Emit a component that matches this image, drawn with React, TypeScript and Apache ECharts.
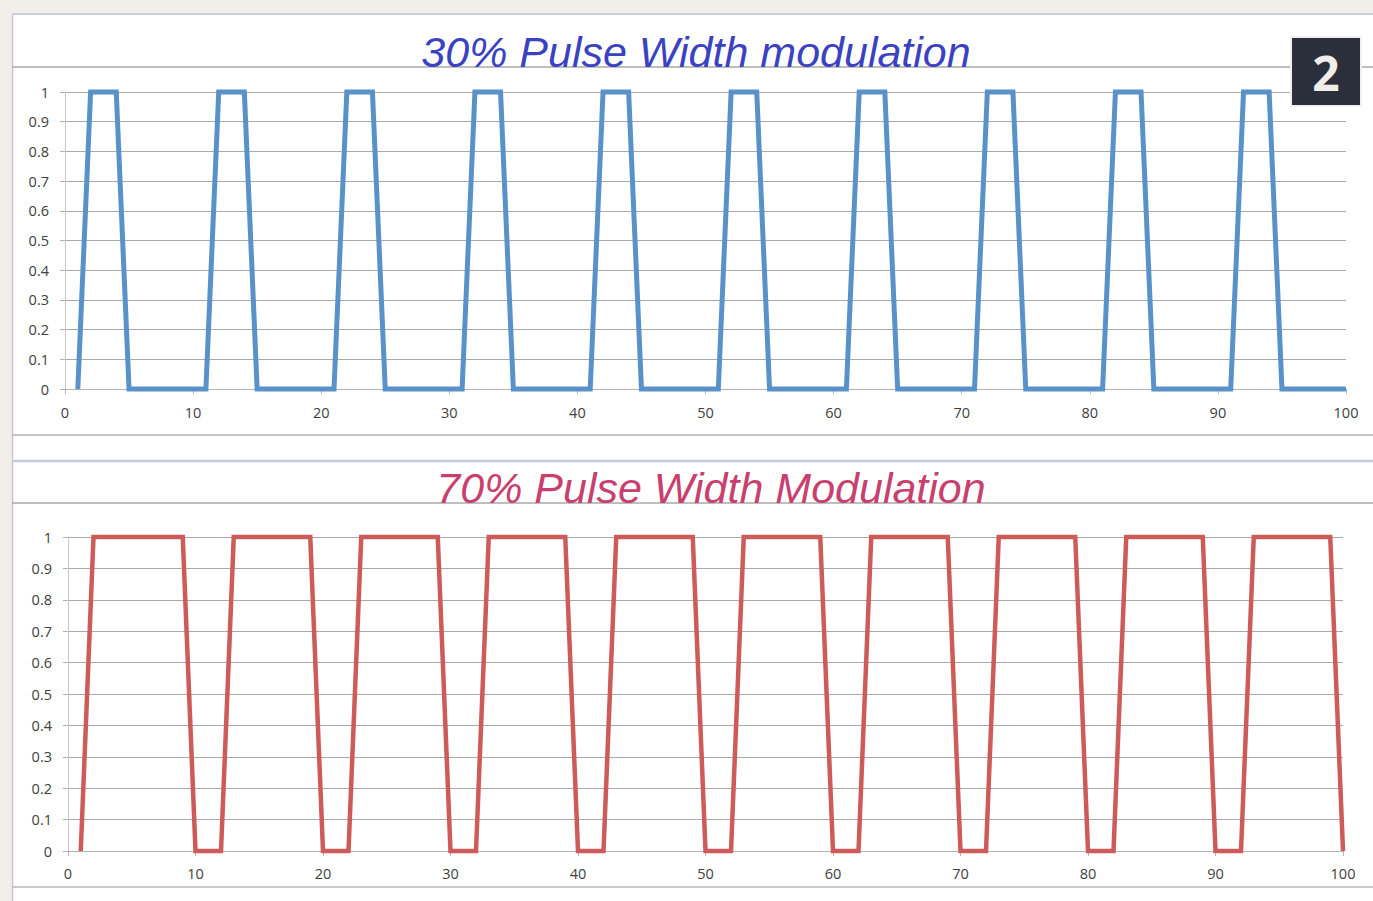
import React, { useEffect, useRef } from "react";
import * as echarts from "echarts";

const xValues = [
  1, 2, 3, 4, 5, 6, 7, 8, 9, 10,
  11, 12, 13, 14, 15, 16, 17, 18, 19, 20,
  21, 22, 23, 24, 25, 26, 27, 28, 29, 30,
  31, 32, 33, 34, 35, 36, 37, 38, 39, 40,
  41, 42, 43, 44, 45, 46, 47, 48, 49, 50,
  51, 52, 53, 54, 55, 56, 57, 58, 59, 60,
  61, 62, 63, 64, 65, 66, 67, 68, 69, 70,
  71, 72, 73, 74, 75, 76, 77, 78, 79, 80,
  81, 82, 83, 84, 85, 86, 87, 88, 89, 90,
  91, 92, 93, 94, 95, 96, 97, 98, 99, 100,
];

const pwm30 = [
  0, 1, 1, 1, 0, 0, 0, 0, 0, 0,
  0, 1, 1, 1, 0, 0, 0, 0, 0, 0,
  0, 1, 1, 1, 0, 0, 0, 0, 0, 0,
  0, 1, 1, 1, 0, 0, 0, 0, 0, 0,
  0, 1, 1, 1, 0, 0, 0, 0, 0, 0,
  0, 1, 1, 1, 0, 0, 0, 0, 0, 0,
  0, 1, 1, 1, 0, 0, 0, 0, 0, 0,
  0, 1, 1, 1, 0, 0, 0, 0, 0, 0,
  0, 1, 1, 1, 0, 0, 0, 0, 0, 0,
  0, 1, 1, 1, 0, 0, 0, 0, 0, 0,
];

const pwm70 = [
  0, 1, 1, 1, 1, 1, 1, 1, 1, 0,
  0, 0, 1, 1, 1, 1, 1, 1, 1, 0,
  0, 0, 1, 1, 1, 1, 1, 1, 1, 0,
  0, 0, 1, 1, 1, 1, 1, 1, 1, 0,
  0, 0, 1, 1, 1, 1, 1, 1, 1, 0,
  0, 0, 1, 1, 1, 1, 1, 1, 1, 0,
  0, 0, 1, 1, 1, 1, 1, 1, 1, 0,
  0, 0, 1, 1, 1, 1, 1, 1, 1, 0,
  0, 0, 1, 1, 1, 1, 1, 1, 1, 0,
  0, 0, 1, 1, 1, 1, 1, 1, 1, 0,
];

const topTitle = "30% Pulse Width modulation";
const bottomTitle = "70% Pulse Width Modulation";
const badgeText = "2";

const labelFont = "Open Sans";

function fmtY(v: number) {
  return String(Math.round(v * 10) / 10);
}

function makeX(gridIndex: number, margin: number) {
  return {
    type: "value",
    gridIndex,
    min: 0,
    max: 100,
    interval: 10,
    axisLine: { show: true, lineStyle: { color: "#b4b4b4", width: 1 } },
    axisTick: { show: true, length: 5, lineStyle: { color: "#b4b4b4" } },
    axisLabel: { color: "#404040", fontSize: 14.5, fontFamily: labelFont, margin },
    splitLine: { show: false },
  };
}

function makeY(gridIndex: number) {
  return {
    type: "value",
    gridIndex,
    min: 0,
    max: 1,
    interval: 0.1,
    axisLine: { show: true, lineStyle: { color: "#c8c8c8", width: 1 } },
    axisTick: { show: true, length: 5, lineStyle: { color: "#b0b0b0" } },
    axisLabel: {
      color: "#404040",
      fontSize: 14.5,
      fontFamily: labelFont,
      margin: 16,
      formatter: fmtY,
    },
    splitLine: { show: true, lineStyle: { color: "#a9a9a9", width: 1 } },
  };
}

export default function App() {
  const ref = useRef<HTMLDivElement>(null);

  useEffect(() => {
    if (!ref.current) return;
    const chart = echarts.init(ref.current, null, { renderer: "svg" });

    const hLine = (y: number, color: string, w: number) => ({
      type: "line",
      shape: { x1: 12, y1: y, x2: 1373, y2: y },
      style: { stroke: color, lineWidth: w },
      silent: true,
    });

    chart.setOption({
      animation: false,
      backgroundColor: "#f2efeb",
      graphic: [
        {
          type: "rect",
          shape: { x: 12, y: 14, width: 1361, height: 887 },
          style: { fill: "#ffffff" },
          z: -10,
          silent: true,
        },
        {
          type: "line",
          shape: { x1: 12.5, y1: 14, x2: 12.5, y2: 901 },
          style: { stroke: "#c4c6d2", lineWidth: 1.5 },
          z: -5,
        },
        { ...hLine(14, "#c9cde0", 2), z: -5 },
        { ...hLine(67, "#a8a8a8", 1.5), z: -5 },
        { ...hLine(435, "#b0b0b0", 1.5), z: -5 },
        { ...hLine(461, "#c5c9de", 2.5), z: -5 },
        { ...hLine(503, "#a8a8a8", 1.5), z: -5 },
        { ...hLine(887, "#b8b8b8", 1.5), z: -5 },
        {
          type: "text",
          x: 696,
          y: 52,
          style: {
            text: topTitle,
            fill: "#3a42c2",
            fontStyle: "italic",
            fontSize: 43,
            fontFamily: "Liberation Sans",
            textAlign: "center",
            textVerticalAlign: "middle",
          },
        },
        {
          type: "text",
          x: 711,
          y: 488,
          style: {
            text: bottomTitle,
            fill: "#c8406f",
            fontStyle: "italic",
            fontSize: 43,
            fontFamily: "Liberation Sans",
            textAlign: "center",
            textVerticalAlign: "middle",
          },
        },
        {
          type: "rect",
          shape: { x: 1291, y: 37, width: 70, height: 69 },
          style: { fill: "#2b2f3b", stroke: "#f3f0ec", lineWidth: 2 },
          z: 20,
        },
        {
          type: "text",
          x: 1326,
          y: 72,
          z: 21,
          style: {
            text: badgeText,
            fill: "#f1eee9",
            fontWeight: "bold",
            fontSize: 48,
            fontFamily: "Open Sans",
            textAlign: "center",
            textVerticalAlign: "middle",
          },
        },
      ],
      grid: [
        { left: 65, right: 27, top: 92, height: 297 },
        { left: 68, right: 30, top: 537, height: 314 },
      ],
      xAxis: [makeX(0, 16), makeX(1, 15)],
      yAxis: [makeY(0), makeY(1)],
      series: [
        {
          type: "line",
          xAxisIndex: 0,
          yAxisIndex: 0,
          data: xValues.map((x, i) => [x, pwm30[i]]),
          showSymbol: false,
          symbol: "none",
          clip: false,
          lineStyle: { color: "#5892c9", width: 5, join: "miter" },
          z: 5,
        },
        {
          type: "line",
          xAxisIndex: 1,
          yAxisIndex: 1,
          data: xValues.map((x, i) => [x, pwm70[i]]),
          showSymbol: false,
          symbol: "none",
          clip: false,
          lineStyle: { color: "#cd5b59", width: 4.5, join: "miter" },
          z: 5,
        },
      ],
    });

    return () => chart.dispose();
  }, []);

  return (
    <div
      ref={ref}
      style={{ position: "fixed", left: 0, top: 0, width: 1373, height: 901 }}
    />
  );
}
